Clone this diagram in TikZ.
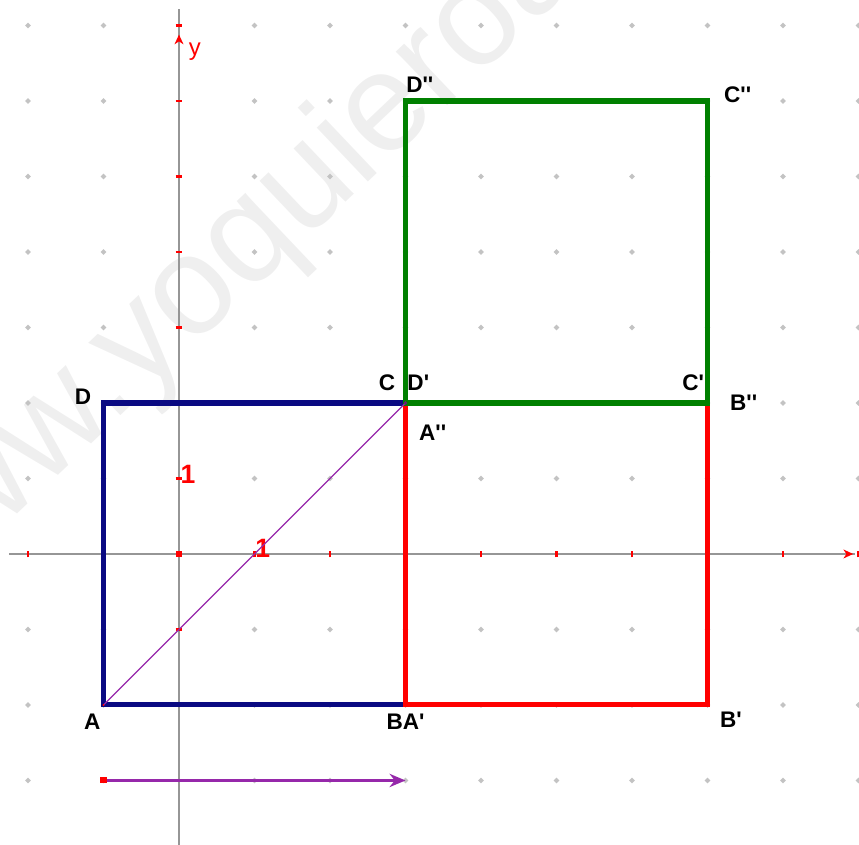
\documentclass[tikz,border=0pt]{standalone}
\usepackage{fontspec}
\setmainfont{Liberation Sans}
\usetikzlibrary{arrows.meta,calc}
\definecolor{sqblue}{RGB}{10,10,130}
\definecolor{sqgreen}{RGB}{0,128,0}
\definecolor{sqred}{RGB}{255,0,0}
\definecolor{vpurple}{RGB}{150,40,170}
\definecolor{axgray}{RGB}{150,150,150}
\definecolor{dotgray}{RGB}{195,195,195}
\definecolor{wmgray}{RGB}{239,239,239}
\newcommand{\pq}{\textquotesingle}
\begin{document}
\begin{tikzpicture}[x=1cm,y=1cm,
  sq/.style={line width=1.9pt, line join=miter},
  ptlabel/.style={font=\fontsize{8.5}{10}\selectfont\bfseries, text=black, inner sep=0pt},
  ticklabel/.style={font=\fontsize{10}{12}\selectfont\bfseries, text=red, inner sep=0pt},
  axisline/.style={axgray, line width=0.8pt},
  tickmark/.style={red, line width=0.8pt},
  vec/.style={vpurple, line width=1pt},
]
\useasboundingbox (-2.371,-3.854) rectangle (9.007,7.338);
% watermark
\begin{scope}
\clip (-2.371,-3.854) rectangle (9.007,7.338);
\node[rotate=43.5, anchor=base west, text=wmgray, font=\fontsize{53}{53}\selectfont, inner sep=0pt] (wm) at (-3.75,-1.0) {www.yoquieroaprobar.es};
\end{scope}
% grid dots
\foreach \x in {-2,-1,1,2,...,9}
  \foreach \y in {-3,-2,-1,1,2,...,7}
    \fill[dotgray] (\x,\y+0.038)--(\x+0.038,\y)--(\x,\y-0.038)--(\x-0.038,\y)--cycle;
% axes
\coordinate (O) at (0,0);
\coordinate (xl) at (-2.25,0);
\coordinate (xr) at (8.95,0);
\coordinate (yb) at (0,-3.854);
\coordinate (yt) at (0,7.22);
\draw[axisline] (xl)--(xr);
\draw[axisline] (yb)--(yt);
\foreach \x in {-2,-1,1,2,...,9}
  \draw[tickmark] (\x,-0.045)--(\x,0.045);
\foreach \y in {-3,-2,-1,1,2,...,7}
  \draw[tickmark] (-0.045,\y)--(0.045,\y);
\fill[red] (-0.035,-0.035) rectangle (0.035,0.035);
\fill[red] (8.93,0) -- (8.80,0.06) -- (8.84,0) -- (8.80,-0.06) -- cycle;
\fill[red] (0,6.88) -- (0.06,6.75) -- (0,6.79) -- (-0.06,6.75) -- cycle;
\node[text=red, font=\fontsize{9}{10}\selectfont, inner sep=0pt] (ylab) at (0.21,6.66) {y};
\node[ticklabel] (t1y) at (0.12,1.06) {1};
\node[ticklabel] (t1x) at (1.11,0.08) {1};
% points
\coordinate (A) at (-1,-2);
\coordinate (B) at (3,-2);
\coordinate (C) at (3,2);
\coordinate (D) at (-1,2);
\coordinate (Bp) at (7,-2);
\coordinate (Cp) at (7,2);
\coordinate (Cpp) at (7,6);
\coordinate (Dpp) at (3,6);
% squares
\draw[sq, sqblue] (A)--(B)--(C)--(D)--cycle;
\draw[sq, sqred] (B)--(Bp)--(Cp)--(C)--cycle;
\draw[sq, sqgreen] (C)--(Cp)--(Cpp)--(Dpp)--cycle;
% diagonal
\draw[vpurple, line width=0.5pt] (A)--(C);
\fill[vpurple!70!black] (C) circle (0.025);
\fill[red] (A) circle (0.015);
% vector
\coordinate (vs) at (-1,-3);
\coordinate (ve) at (3,-3);
\draw[vec, -{Stealth[length=6pt,width=5pt]}] (vs)--(ve);
\fill[red] ($(vs)+(-0.04,-0.04)$) rectangle ($(vs)+(0.04,0.04)$);
% labels
\node[ptlabel] (lD) at (-1.27,2.08) {D};
\node[ptlabel] (lC) at (2.755,2.265) {C};
\node[ptlabel] (lDp) at (3.17,2.265) {D\pq};
\node[ptlabel] (lApp) at (3.36,1.60) {A\pq\pq};
\node[ptlabel] (lCp) at (6.81,2.265) {C\pq};
\node[ptlabel] (lBpp) at (7.48,2.0) {B\pq\pq};
\node[ptlabel] (lA) at (-1.15,-2.22) {A};
\node[ptlabel] (lBAp) at (3.0,-2.22) {BA\pq};
\node[ptlabel] (lBp) at (7.31,-2.2) {B\pq};
\node[ptlabel] (lDpp) at (3.19,6.21) {D\pq\pq};
\node[ptlabel] (lCpp) at (7.40,6.08) {C\pq\pq};
\end{tikzpicture}
\end{document}
